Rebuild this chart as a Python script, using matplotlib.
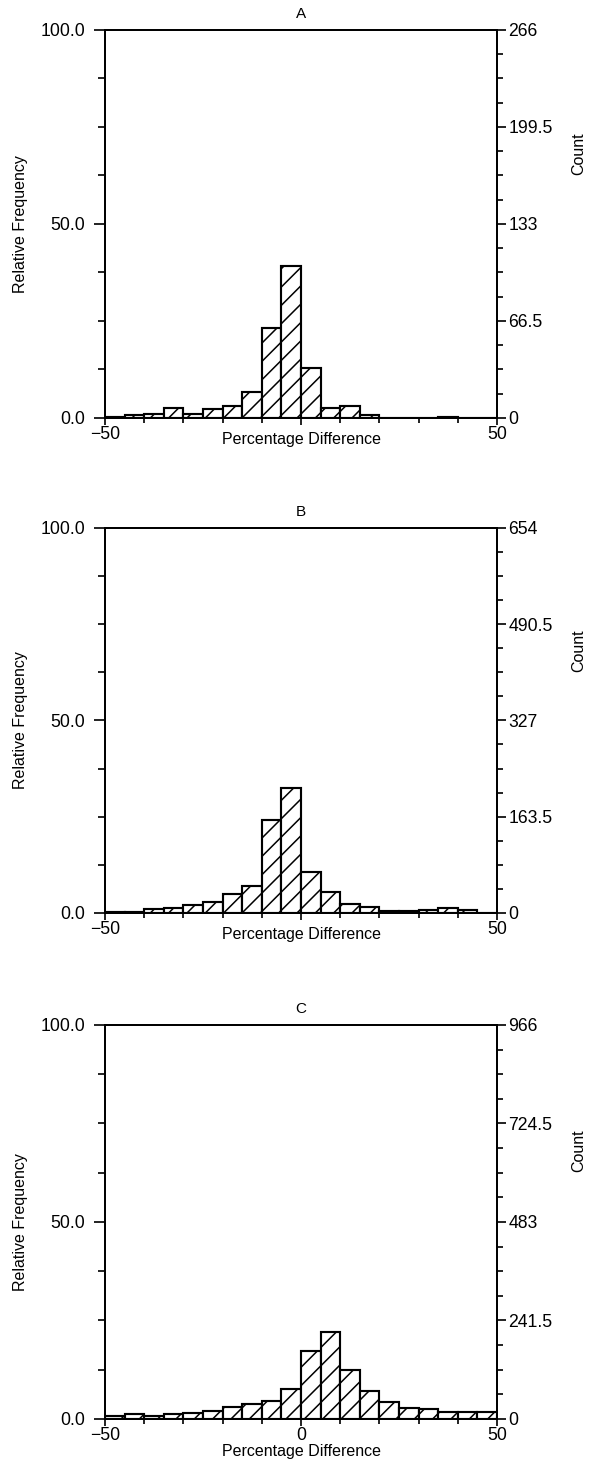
import numpy as np
import matplotlib
matplotlib.use('Agg')
import matplotlib.pyplot as plt
from matplotlib.ticker import FormatStrFormatter

plt.rcParams['font.family'] = ['Liberation Sans', 'DejaVu Sans']
plt.rcParams['hatch.linewidth'] = 1.0

# bins of 5 percentage points from -50 to 50
edges = np.arange(-50, 55, 5)

# counts per bin
counts_a = [1, 2, 3, 7, 3, 6, 8, 18, 62, 104, 34, 7, 8, 2, 0, 0, 0, 1, 0, 0]
counts_b = [2, 2, 7, 9, 13, 18, 33, 46, 157, 212, 69, 36, 15, 10, 3, 3, 5, 9, 5, 0]
counts_c = [8, 12, 7, 13, 15, 19, 29, 36, 45, 73, 166, 213, 120, 69, 41, 28, 24, 16, 16, 16]

# totals shown on the right-hand axis (= 100 %)
totals = [266, 654, 966]
titles = ['A', 'B', 'C']

# x tick labels: panels A and B leave the 0 unlabelled
xticks = [-50, 0, 50]
xticklabels = [
    ['\u221250', '', '50'],
    ['\u221250', '', '50'],
    ['\u221250', '0', '50'],
]

# axes rectangles in figure fractions
boxes = [
    [0.1759, 0.7170, 0.6566, 0.2627],
    [0.1759, 0.3819, 0.6566, 0.2607],
    [0.1759, 0.0393, 0.6566, 0.2668],
]
xlabel_pads = [-7.5, -7.5, 0]

dpi = 110
fig = plt.figure(figsize=(597 / dpi, 1477 / dpi), dpi=dpi)

for i, counts in enumerate([counts_a, counts_b, counts_c]):
    total = totals[i]
    ax = fig.add_axes(boxes[i])
    rel = np.array(counts) / total * 100.0
    ax.bar(edges[:-1], rel, width=5, align='edge', facecolor='white',
           edgecolor='black', hatch='//', linewidth=1.4)

    ax.set_xlim(-50, 50)
    ax.set_ylim(0, 100)
    ax.set_xticks(xticks)
    ax.set_xticklabels(xticklabels[i])
    ax.set_xticks(np.arange(-50, 51, 10), minor=True)
    ax.set_yticks([0, 50, 100])
    ax.set_yticks(np.arange(0, 100.1, 12.5), minor=True)
    ax.yaxis.set_major_formatter(FormatStrFormatter('%.1f'))

    # left axis
    ax.tick_params(axis='y', which='both', direction='out', width=1.1, labelsize=11.5, pad=6)
    ax.tick_params(axis='y', which='major', length=7)
    ax.tick_params(axis='y', which='minor', length=4.5)
    # bottom axis
    ax.tick_params(axis='x', which='both', direction='out', width=1.1, labelsize=11.5, pad=1)
    ax.tick_params(axis='x', which='major', length=4.5)
    ax.tick_params(axis='x', which='minor', length=3.5)
    for s in ax.spines.values():
        s.set_linewidth(1.2)

    ax.set_title(titles[i], fontsize=10, pad=8)
    ax.set_xlabel('Percentage Difference', fontsize=10.5, labelpad=xlabel_pads[i])
    ax.set_ylabel('Relative Frequency', fontsize=10.5, labelpad=8)

    ax2 = ax.twinx()
    ax2.set_ylim(0, total)
    ax2.set_yticks(np.linspace(0, total, 5))
    ax2.set_yticks(np.linspace(0, total, 17), minor=True)
    ax2.yaxis.set_major_formatter(FormatStrFormatter('%g'))
    ax2.tick_params(which='both', direction='out', width=1.1, labelsize=11.5, pad=1.5)
    ax2.tick_params(which='major', length=6)
    ax2.tick_params(which='minor', length=4)
    ax2.set_ylabel('Count', fontsize=10.5)
    ax2.yaxis.set_label_coords(1.19, 0.68)
    for s in ax2.spines.values():
        s.set_linewidth(1.2)

fig.savefig('out.png', dpi=dpi)
